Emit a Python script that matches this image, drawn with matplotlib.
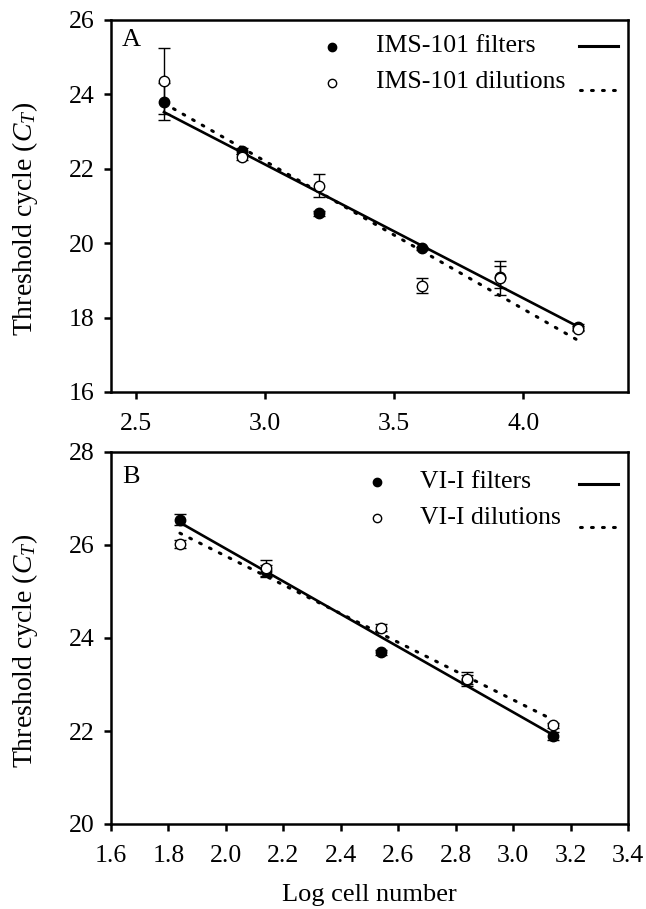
import matplotlib
matplotlib.use("Agg")
import matplotlib.pyplot as plt
import numpy as np

plt.rcParams['font.family'] = ['Liberation Serif', 'DejaVu Serif']
plt.rcParams['mathtext.fontset'] = 'custom'
plt.rcParams['mathtext.rm'] = 'Liberation Serif'
plt.rcParams['mathtext.it'] = 'Liberation Serif:italic'

# ---------------- Panel A data (IMS-101) ----------------
a_x = [2.61, 2.91, 3.21, 3.61, 3.91, 4.21]
a_filt = [23.80, 22.49, 20.80, 19.86, 19.10, 17.75]
a_filt_err = [0.50, 0.08, 0.06, 0.05, 0.30, 0.07]
a_dil = [24.36, 22.31, 21.55, 18.86, 19.06, 17.70]
a_dil_err = [0.90, 0.08, 0.31, 0.21, 0.46, 0.07]
# regression lines (slope, intercept)
a_fit_filt = (-3.60, 32.92)
a_fit_dil = (-3.98, 34.15)

# ---------------- Panel B data (VI-I) ----------------
b_x = [1.84, 2.14, 2.54, 2.84, 3.14]
b_filt = [26.54, 25.45, 23.69, 23.10, 21.89]
b_filt_err = [0.12, 0.12, 0.05, 0.10, 0.08]
b_dil = [26.02, 25.50, 24.22, 23.11, 22.12]
b_dil_err = [0.08, 0.18, 0.08, 0.15, 0.06]
b_fit_filt = (-3.515, 32.95)
b_fit_dil = (-3.09, 31.94)

a_legend = ["IMS-101 filters", "IMS-101 dilutions"]
b_legend = ["VI-I filters", "VI-I dilutions"]
a_xticks = [2.5, 3.0, 3.5, 4.0]
a_yticks = [16, 18, 20, 22, 24, 26]
b_xticks = [1.6, 1.8, 2.0, 2.2, 2.4, 2.6, 2.8, 3.0, 3.2, 3.4]
b_yticks = [20, 22, 24, 26, 28]

FS = 18.5
W, H = 646, 909
fig = plt.figure(figsize=(W / 100, H / 100), dpi=100)

A_BOX = (111, 20, 628, 392)
B_BOX = (111, 452, 628, 824)

def px_axes(box):
    l, t, r, b = box
    return fig.add_axes([l / W, 1 - b / H, (r - l) / W, (b - t) / H])

axA = px_axes(A_BOX)
axB = px_axes(B_BOX)

DOT = (0, (0.6, 3.0))

def draw(ax, x, filt, ferr, dil, derr, fit_f, fit_d, xlim, ylim, xticks, yticks):
    x = np.asarray(x)
    xx = np.array([x.min(), x.max()])
    ax.plot(xx, fit_f[0] * xx + fit_f[1], color='black', lw=1.9, zorder=2)
    ax.plot(xx, fit_d[0] * xx + fit_d[1], color='black', lw=2.2,
            linestyle=DOT, dash_capstyle='round', zorder=2)
    ax.errorbar(x, filt, yerr=ferr, fmt='o', color='black', ms=7.5, mfc='black',
                mec='black', ecolor='black', elinewidth=1.0, capsize=4.5, capthick=1.0, zorder=3)
    ax.errorbar(x, dil, yerr=derr, fmt='o', color='black', ms=7.5, mfc='white',
                mec='black', mew=1.0, ecolor='black', elinewidth=1.0, capsize=4.5, capthick=1.0, zorder=4)
    ax.set_xlim(*xlim)
    ax.set_ylim(*ylim)
    ax.set_xticks(xticks)
    ax.set_xticklabels(["{:.1f}".format(t) for t in xticks])
    ax.set_yticks(yticks)
    ax.set_yticklabels([str(t) for t in yticks])
    for s in ax.spines.values():
        s.set_linewidth(1.8)
    ax.tick_params(axis='x', direction='out', length=5, width=1.8, labelsize=FS, pad=10)
    ax.tick_params(axis='y', direction='out', length=5, width=1.8, labelsize=FS, pad=7)
    ax.set_ylabel(r"Threshold cycle ($C_T$)", fontsize=FS + 1.5)
    ax.yaxis.set_label_coords(-0.138, 0.465)

draw(axA, a_x, a_filt, a_filt_err, a_dil, a_dil_err, a_fit_filt, a_fit_dil,
     (2.405, 4.405), (16, 26), a_xticks, a_yticks)
draw(axB, b_x, b_filt, b_filt_err, b_dil, b_dil_err, b_fit_filt, b_fit_dil,
     (1.6, 3.4), (20, 28), b_xticks, b_yticks)
axB.set_xlabel("Log cell number", fontsize=FS + 0.5, labelpad=12)

def legend(ax, box, letter, letter_xy, mx, tx, ys, solid_y, dot_y, labels):
    l, t, r, b = box
    def fx(px): return (px - l) / (r - l)
    def fy(py): return 1 - (py - t) / (b - t)
    ax.text(fx(letter_xy[0]), fy(letter_xy[1]), letter, fontsize=FS + 0.5,
            ha='left', va='center', transform=ax.transAxes)
    ax.plot([fx(mx)], [fy(ys[0])], 'o', ms=6, mfc='black', mec='black', transform=ax.transAxes)
    ax.plot([fx(mx)], [fy(ys[1])], 'o', ms=6, mfc='white', mec='black', mew=1.0, transform=ax.transAxes)
    for y, lab in zip(ys, labels):
        ax.text(fx(tx), fy(y), lab, fontsize=FS, ha='left', va='center', transform=ax.transAxes)
    ax.plot([fx(579), fx(618)], [fy(solid_y)] * 2, color='black', lw=2.2, transform=ax.transAxes)
    ax.plot([fx(580), fx(619)], [fy(dot_y)] * 2, color='black', lw=2.2,
            linestyle=DOT, dash_capstyle='round', transform=ax.transAxes)

legend(axA, A_BOX, "A", (122, 40), 331.7, 376, (46.5, 82.5), 45.5, 89.5, a_legend)
legend(axB, B_BOX, "B", (122, 477), 376.7, 420, (481.7, 518.3), 484, 526.5, b_legend)

fig.savefig("out.png", dpi=100)
